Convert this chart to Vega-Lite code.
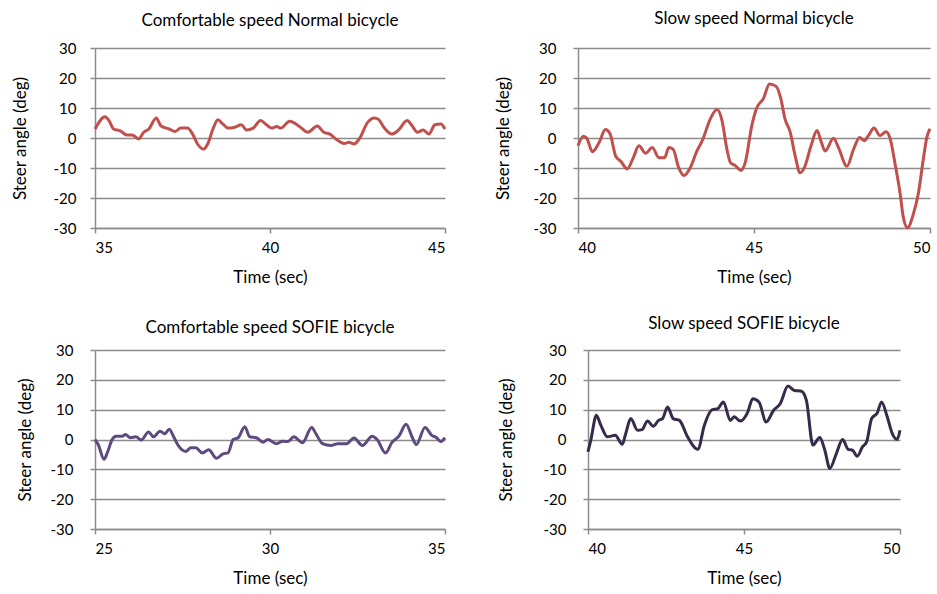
{
  "$schema": "https://vega.github.io/schema/vega-lite/v6.json",
  "padding": {"left": 11, "top": 10, "right": 5, "bottom": 5},
  "background": "white",
  "datasets": {
    "p1": [
      {"t":35.0,"v":3.0},{"t":35.29,"v":7.1},{"t":35.4,"v":5.8},{"t":35.53,"v":3.0},{"t":35.72,"v":2.4},{"t":35.91,"v":1.0},{"t":36.06,"v":1.0},{"t":36.25,"v":-0.3},{"t":36.39,"v":1.9},{"t":36.54,"v":3.0},{"t":36.75,"v":6.7},{"t":36.88,"v":4.1},{"t":37.12,"v":3.0},{"t":37.29,"v":2.2},{"t":37.45,"v":3.3},{"t":37.64,"v":3.3},{"t":37.79,"v":1.3},{"t":37.93,"v":-2.0},{"t":38.1,"v":-3.7},{"t":38.22,"v":-2.0},{"t":38.37,"v":3.0},{"t":38.51,"v":6.1},{"t":38.65,"v":4.7},{"t":38.8,"v":3.3},{"t":38.99,"v":3.6},{"t":39.18,"v":4.4},{"t":39.33,"v":2.7},{"t":39.52,"v":3.3},{"t":39.73,"v":5.8},{"t":39.9,"v":4.4},{"t":40.05,"v":3.3},{"t":40.19,"v":3.8},{"t":40.31,"v":3.3},{"t":40.56,"v":5.6},{"t":40.87,"v":3.6},{"t":41.08,"v":1.9},{"t":41.35,"v":4.0},{"t":41.54,"v":1.9},{"t":41.71,"v":1.3},{"t":41.92,"v":-0.7},{"t":42.12,"v":-1.8},{"t":42.26,"v":-1.4},{"t":42.4,"v":-2.0},{"t":42.55,"v":-0.3},{"t":42.79,"v":5.2},{"t":42.98,"v":6.7},{"t":43.1,"v":6.2},{"t":43.27,"v":3.3},{"t":43.48,"v":1.3},{"t":43.65,"v":2.4},{"t":43.92,"v":5.8},{"t":44.06,"v":4.1},{"t":44.21,"v":1.9},{"t":44.38,"v":2.7},{"t":44.54,"v":1.3},{"t":44.71,"v":4.4},{"t":44.88,"v":4.7},{"t":45.0,"v":3.0}
    ],
    "p2": [
      {"t":40.0,"v":-2.6},{"t":40.15,"v":0.6},{"t":40.25,"v":-0.1},{"t":40.41,"v":-4.6},{"t":40.6,"v":-1.5},{"t":40.78,"v":2.8},{"t":40.91,"v":1.4},{"t":41.07,"v":-6.0},{"t":41.21,"v":-7.7},{"t":41.4,"v":-10.3},{"t":41.57,"v":-6.6},{"t":41.73,"v":-2.6},{"t":41.92,"v":-5.1},{"t":42.11,"v":-3.2},{"t":42.3,"v":-6.6},{"t":42.46,"v":-6.6},{"t":42.58,"v":-3.2},{"t":42.7,"v":-3.7},{"t":42.86,"v":-9.9},{"t":43.01,"v":-12.5},{"t":43.19,"v":-9.9},{"t":43.38,"v":-4.3},{"t":43.53,"v":-0.9},{"t":43.76,"v":6.4},{"t":43.95,"v":9.5},{"t":44.09,"v":5.9},{"t":44.23,"v":-3.7},{"t":44.33,"v":-8.2},{"t":44.47,"v":-9.2},{"t":44.63,"v":-10.8},{"t":44.75,"v":-8.2},{"t":44.94,"v":4.2},{"t":45.07,"v":9.8},{"t":45.27,"v":13.2},{"t":45.44,"v":18.0},{"t":45.63,"v":17.2},{"t":45.76,"v":13.2},{"t":45.88,"v":6.4},{"t":46.03,"v":1.9},{"t":46.17,"v":-6.0},{"t":46.31,"v":-11.6},{"t":46.43,"v":-9.9},{"t":46.62,"v":-2.6},{"t":46.79,"v":2.5},{"t":46.9,"v":-0.9},{"t":47.02,"v":-4.3},{"t":47.26,"v":-0.1},{"t":47.4,"v":-3.2},{"t":47.64,"v":-9.4},{"t":47.83,"v":-3.7},{"t":48.0,"v":0.2},{"t":48.13,"v":-0.9},{"t":48.25,"v":0.8},{"t":48.41,"v":3.3},{"t":48.58,"v":0.8},{"t":48.75,"v":2.1},{"t":48.87,"v":-0.3},{"t":49.01,"v":-8.8},{"t":49.15,"v":-18.4},{"t":49.24,"v":-26.3},{"t":49.36,"v":-29.9},{"t":49.53,"v":-25.2},{"t":49.67,"v":-18.4},{"t":49.81,"v":-7.1},{"t":49.91,"v":0.2},{"t":50.0,"v":3.1}
    ],
    "p3": [
      {"t":25.0,"v":0.0},{"t":25.09,"v":-1.7},{"t":25.26,"v":-6.6},{"t":25.35,"v":-4.5},{"t":25.49,"v":0.0},{"t":25.6,"v":1.1},{"t":25.78,"v":1.1},{"t":25.87,"v":1.7},{"t":26.01,"v":0.6},{"t":26.17,"v":0.9},{"t":26.32,"v":-0.2},{"t":26.53,"v":2.5},{"t":26.67,"v":0.9},{"t":26.86,"v":2.8},{"t":26.99,"v":1.9},{"t":27.12,"v":3.4},{"t":27.24,"v":1.1},{"t":27.36,"v":-1.7},{"t":27.59,"v":-4.0},{"t":27.74,"v":-2.8},{"t":27.88,"v":-2.8},{"t":28.07,"v":-4.5},{"t":28.25,"v":-3.4},{"t":28.47,"v":-6.3},{"t":28.66,"v":-4.8},{"t":28.8,"v":-4.5},{"t":28.95,"v":0.0},{"t":29.09,"v":0.6},{"t":29.28,"v":4.3},{"t":29.42,"v":0.9},{"t":29.61,"v":0.6},{"t":29.8,"v":-0.9},{"t":29.94,"v":0.0},{"t":30.18,"v":-1.4},{"t":30.36,"v":-0.6},{"t":30.51,"v":-0.7},{"t":30.68,"v":0.9},{"t":30.93,"v":-1.1},{"t":31.19,"v":4.0},{"t":31.31,"v":2.0},{"t":31.5,"v":-1.4},{"t":31.74,"v":-2.0},{"t":31.93,"v":-1.4},{"t":32.19,"v":-1.4},{"t":32.4,"v":0.5},{"t":32.64,"v":-2.0},{"t":32.92,"v":1.1},{"t":33.06,"v":0.0},{"t":33.3,"v":-4.5},{"t":33.49,"v":-0.9},{"t":33.68,"v":1.1},{"t":33.89,"v":5.1},{"t":34.05,"v":1.1},{"t":34.18,"v":-1.7},{"t":34.43,"v":4.0},{"t":34.62,"v":1.4},{"t":34.76,"v":0.6},{"t":34.87,"v":-0.7},{"t":35.0,"v":0.6}
    ],
    "p4": [
      {"t":40.0,"v":-4.1},{"t":40.09,"v":-0.2},{"t":40.27,"v":8.1},{"t":40.41,"v":4.8},{"t":40.62,"v":0.9},{"t":40.87,"v":1.4},{"t":41.1,"v":-1.6},{"t":41.21,"v":2.0},{"t":41.37,"v":7.0},{"t":41.59,"v":3.1},{"t":41.73,"v":3.3},{"t":41.91,"v":6.2},{"t":42.09,"v":4.4},{"t":42.26,"v":6.4},{"t":42.39,"v":7.0},{"t":42.55,"v":10.9},{"t":42.73,"v":7.0},{"t":42.93,"v":6.4},{"t":43.19,"v":0.9},{"t":43.52,"v":-3.3},{"t":43.73,"v":4.8},{"t":43.98,"v":10.0},{"t":44.16,"v":10.3},{"t":44.34,"v":12.6},{"t":44.56,"v":6.4},{"t":44.69,"v":7.6},{"t":44.88,"v":6.2},{"t":45.12,"v":9.2},{"t":45.28,"v":13.7},{"t":45.48,"v":12.6},{"t":45.71,"v":5.9},{"t":45.95,"v":9.8},{"t":46.16,"v":12.0},{"t":46.41,"v":17.9},{"t":46.62,"v":16.4},{"t":46.84,"v":16.2},{"t":47.0,"v":13.1},{"t":47.21,"v":-1.9},{"t":47.43,"v":0.7},{"t":47.59,"v":-3.6},{"t":47.75,"v":-9.7},{"t":47.96,"v":-4.7},{"t":48.16,"v":0.0},{"t":48.34,"v":-3.3},{"t":48.48,"v":-3.6},{"t":48.63,"v":-5.6},{"t":48.8,"v":-2.4},{"t":48.93,"v":-0.8},{"t":49.09,"v":7.0},{"t":49.27,"v":8.9},{"t":49.41,"v":12.6},{"t":49.59,"v":7.6},{"t":49.76,"v":1.8},{"t":49.91,"v":0.0},{"t":50.0,"v":3.1}
    ]
  },
  "vconcat": [
    {
      "hconcat": [
        {
          "data": {"name": "p1"},
          "title": {"text": "Comfortable speed Normal bicycle", "offset": 11},
          "width": 350, "height": 180,
          "mark": {"type": "line", "interpolate": "monotone", "color": "#C0504D", "strokeWidth": 3},
          "encoding": {
            "x": {"field": "t", "type": "quantitative", "scale": {"domain": [35, 45], "nice": false}, "axis": {"title": "Time (sec)", "values": [35, 40, 45], "grid": false}},
            "y": {"field": "v", "type": "quantitative", "scale": {"domain": [-30, 30], "nice": false}, "axis": {"title": "Steer angle (deg)", "values": [-30, -20, -10, 0, 10, 20, 30], "labelPadding": 14, "titlePadding": 24}}
          }
        },
        {
          "data": {"name": "p2"},
          "title": {"text": "Slow speed Normal bicycle", "offset": 13},
          "width": 352, "height": 180,
          "mark": {"type": "line", "interpolate": "monotone", "color": "#C0504D", "strokeWidth": 3},
          "encoding": {
            "x": {"field": "t", "type": "quantitative", "scale": {"domain": [40, 50], "nice": false}, "axis": {"title": "Time (sec)", "values": [40, 45, 50], "grid": false}},
            "y": {"field": "v", "type": "quantitative", "scale": {"domain": [-30, 30], "nice": false}, "axis": {"title": "Steer angle (deg)", "values": [-30, -20, -10, 0, 10, 20, 30], "labelPadding": 17, "titlePadding": 21}}
          }
        }
      ],
      "align": "none",
      "spacing": 43
    },
    {
      "hconcat": [
        {
          "data": {"name": "p3"},
          "title": {"text": "Comfortable speed SOFIE bicycle", "offset": 6},
          "width": 350, "height": 179,
          "mark": {"type": "line", "interpolate": "monotone", "color": "#5E4A7E", "strokeWidth": 3},
          "encoding": {
            "x": {"field": "t", "type": "quantitative", "scale": {"domain": [25, 35], "nice": false}, "axis": {"title": "Time (sec)", "values": [25, 30, 35], "grid": false}},
            "y": {"field": "v", "type": "quantitative", "scale": {"domain": [-30, 30], "nice": false}, "axis": {"title": "Steer angle (deg)", "values": [-30, -20, -10, 0, 10, 20, 30], "labelPadding": 17, "titlePadding": 16}}
          }
        },
        {
          "data": {"name": "p4"},
          "title": {"text": "Slow speed SOFIE bicycle", "offset": 10},
          "width": 312, "height": 179,
          "mark": {"type": "line", "interpolate": "monotone", "color": "#372A4B", "strokeWidth": 3},
          "encoding": {
            "x": {"field": "t", "type": "quantitative", "scale": {"domain": [40, 50], "nice": false}, "axis": {"title": "Time (sec)", "values": [40, 45, 50], "grid": false}},
            "y": {"field": "v", "type": "quantitative", "scale": {"domain": [-30, 30], "nice": false}, "axis": {"title": "Steer angle (deg)", "values": [-30, -20, -10, 0, 10, 20, 30], "labelPadding": 17, "titlePadding": 28}}
          }
        }
      ],
      "align": "none",
      "spacing": 46
    }
  ],
  "align": "none",
  "spacing": 30,
  "config": {
    "font": "Lato",
    "view": {"stroke": null},
    "title": {"fontSize": 17, "fontWeight": "normal", "color": "#000000", "font": "Lato"},
    "axis": {
      "labelFont": "Lato", "labelFontSize": 15, "labelColor": "#000000",
      "labelExpr": "'' + datum.value",
      "titleFont": "Lato", "titleFontSize": 17, "titleFontWeight": "normal", "titleColor": "#000000",
      "domainColor": "#8C8C8C", "domainWidth": 1.5,
      "tickColor": "#8C8C8C", "tickWidth": 1.5, "tickSize": 5,
      "gridColor": "#8C8C8C", "gridWidth": 1.5, "gridOpacity": 1
    },
    "axisX": {"labelPadding": 7, "titlePadding": 14}
  }
}
